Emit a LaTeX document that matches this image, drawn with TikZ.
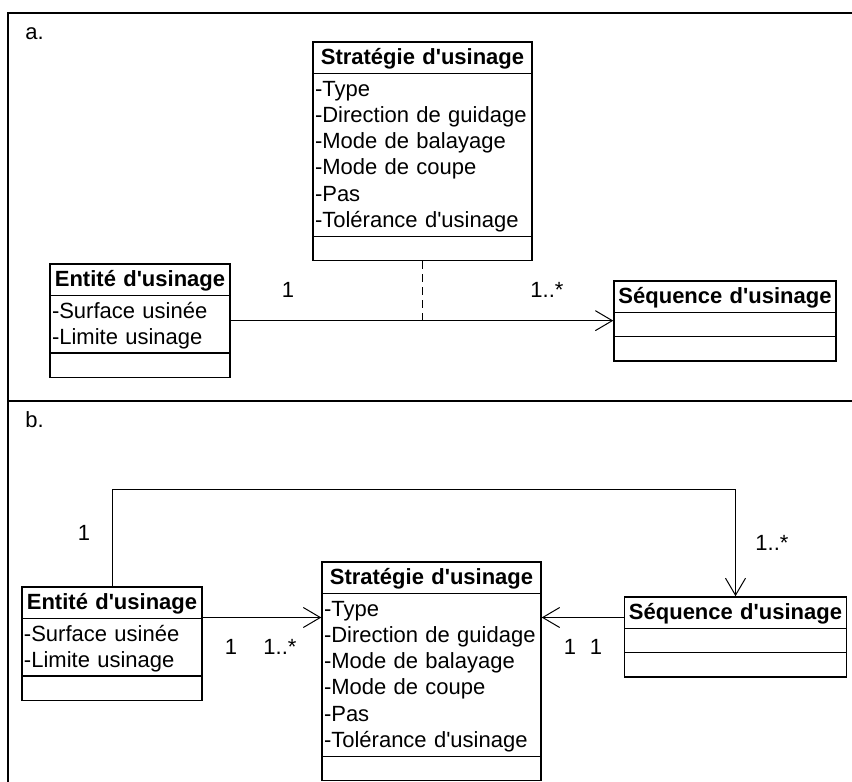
\documentclass[tikz,border=0pt]{standalone}
\usepackage{fontspec}
\setmainfont{Liberation Sans}[Ligatures=TeXOff]
\usetikzlibrary{shapes.multipart,arrows.meta}

\newcommand\ls{\rule[-3pt]{0pt}{13pt}}
\newcommand\es{\rule{0pt}{9.5pt}}
\newcommand\classname[1]{\makebox[\hsize][c]{\ls\textbf{#1}}}

\begin{document}
\begin{tikzpicture}[x=0.5pt,y=-0.5pt,
  class/.style={rectangle split,rectangle split parts=3,draw,line width=0.7pt,
    inner xsep=1pt,inner ysep=1pt,align=left,
    font=\fontsize{11pt}{13.15pt}\selectfont},
  assoc/.style={line width=0.5pt,-{Straight Barb[length=8.5pt,width=10pt]}},
  mult/.style={inner sep=0pt,font=\fontsize{11pt}{13.15pt}\selectfont},
  frame/.style={line width=0.8pt}
]
\useasboundingbox (0,0) rectangle (852,782);

% frame
\draw[frame] (8,782) -- (8,13) -- (852,13);
\draw[frame,line width=1.3pt] (8,401) -- (852,401);
\node[mult,anchor=base west] (labA) at (25,39) {a.};
\node[mult,anchor=base west] (labB) at (25,427) {b.};

% a.
\node[class,text width=107.5pt] (stratA) at (422.5,151.25)
  {\classname{Stratégie d'usinage}
   \nodepart{two}\ls-Type\\\ls-Direction de guidage\\\ls-Mode de balayage\\
   \ls-Mode de coupe\\\ls-Pas\\\ls-Tolérance d'usinage
   \nodepart{three}\es};
\node[class,text width=88pt] (entA) at (140,320.65)
  {\classname{Entité d'usinage}
   \nodepart{two}\ls-Surface usinée\\\ls-Limite usinage
   \nodepart{three}\es};
\node[class,text width=109pt] (seqA) at (725,321)
  {\classname{Séquence d'usinage}
   \nodepart{two}\es
   \nodepart{three}\es};

\draw[assoc] (entA.east) -- (entA.east -| seqA.west);
\draw[line width=0.6pt,dash pattern=on 4pt off 2.5pt] (stratA.south) -- (stratA.south |- entA.east);
\node[mult] (mA1) at (288,290) {1};
\node[mult] (mA2) at (547,290) {1..*};

% b.
\node[class,text width=107.5pt] (stratB) at (431.5,671.25)
  {\classname{Stratégie d'usinage}
   \nodepart{two}\ls-Type\\\ls-Direction de guidage\\\ls-Mode de balayage\\
   \ls-Mode de coupe\\\ls-Pas\\\ls-Tolérance d'usinage
   \nodepart{three}\es};
\node[class,text width=88pt] (entB) at (112,643.65)
  {\classname{Entité d'usinage}
   \nodepart{two}\ls-Surface usinée\\\ls-Limite usinage
   \nodepart{three}\es};
\node[class,text width=109pt] (seqB) at (735.5,637)
  {\classname{Séquence d'usinage}
   \nodepart{two}\es
   \nodepart{three}\es};

\coordinate (topB) at (0,489);
\coordinate (rowB) at (0,617.5);
\draw[assoc] (entB.north) -- (entB.north |- topB) -| (seqB.north);
\draw[assoc] (entB.east |- rowB) -- (stratB.west |- rowB);
\draw[assoc] (seqB.west |- rowB) -- (stratB.east |- rowB);
\node[mult] (mB1) at (84,533) {1};
\node[mult] (mB2) at (772,543) {1..*};
\node[mult] (mB3) at (231,647) {1};
\node[mult] (mB4) at (280,647) {1..*};
\node[mult] (mB5) at (570,647) {1};
\node[mult] (mB6) at (596,647) {1};
\end{tikzpicture}
\end{document}
